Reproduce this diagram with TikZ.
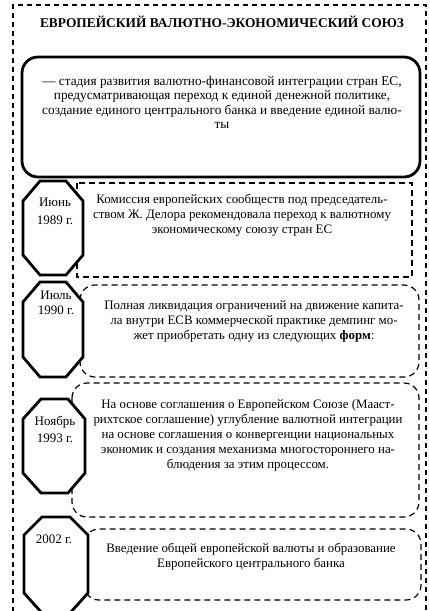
\documentclass[tikz,border=0pt]{standalone}
\usepackage{fontspec}
\setmainfont{Liberation Serif}
\tikzset{
  frame/.style={draw, line width=1.1pt, dash pattern=on 5pt off 4pt},
  dbox/.style={draw, line width=1.2pt, dash pattern=on 6pt off 4pt, fill=white},
  mainbox/.style={draw, line width=2.8pt, rounded corners=16pt},
  oct/.style={draw, line width=2.8pt, fill=white, line join=miter},
  txt/.style={align=center, inner sep=0pt, anchor=north, font=\fontsize{12.9}{15}\selectfont},
  datelbl/.style={align=center, inner sep=0pt, anchor=north, font=\fontsize{13}{17.5}\selectfont},
}
\begin{document}
\begin{tikzpicture}[x=1pt,y=-1pt]
\useasboundingbox (0,0) rectangle (429,611);
% outer frame
\path[frame] (13,630) -- (13,5) -- (426,5) -- (426,630);
\node[font=\bfseries\fontsize{13.4}{15}\selectfont, inner sep=0pt] (title) at (222,22) {ЕВРОПЕЙСКИЙ ВАЛЮТНО-ЭКОНОМИЧЕСКИЙ СОЮЗ};
% main definition box
\path[mainbox] (22,57) rectangle (420,177);
\node[txt, font=\fontsize{13.3}{14.3}\selectfont] (def) at (222,76) {— стадия развития валютно-финансовой интеграции стран ЕС,\\ предусматривающая переход к единой денежной политике,\\ создание единого центрального банка и введение единой валю-\\ ты};
% dashed boxes
\path[dbox] (77,183) rectangle (412,277);
\path[dbox, rounded corners=15pt] (80,285) rectangle (419,377);
\path[dbox, rounded corners=15pt] (72,383) rectangle (419,517);
\path[dbox, rounded corners=15pt] (84,529) rectangle (421,600);
% octagons
\path[oct] (40,181) -- (66,181) -- (83,201) -- (83,255) -- (66,275) -- (40,275) -- (23,255) -- (23,201) -- cycle;
\path[oct] (40,282) -- (66,282) -- (83,302) -- (83,357) -- (66,377) -- (40,377) -- (23,357) -- (23,302) -- cycle;
\path[oct] (41,399) -- (68,399) -- (85,419) -- (85,473) -- (68,493) -- (41,493) -- (23,473) -- (23,419) -- cycle;
\path[oct] (42,517) -- (70,517) -- (88,535) -- (88,593) -- (70,613) -- (42,613) -- (24,593) -- (24,535) -- cycle;
% date labels
\node[datelbl] (d1) at (55,198) {Июнь\\ 1989 г.};
\node[datelbl, font=\fontsize{13}{15}\selectfont] (d2) at (56,291) {Июль\\ 1990 г.};
\node[datelbl, font=\fontsize{13}{17}\selectfont] (d3) at (55,416) {Ноябрь\\ 1993 г.};
\node[datelbl] (d4) at (54,535) {2002 г.};
% texts
\node[txt] (t1) at (242,194) {Комиссия европейских сообществ под председатель-\\ ством Ж. Делора рекомендовала переход к валютному\\ экономическому союзу стран ЕС};
\node[txt] (t2) at (254,300) {Полная ликвидация ограничений на движение капита-\\ ла внутри ЕСВ коммерческой практике демпинг мо-\\ жет приобретать одну из следующих \textbf{форм}:};
\node[txt] (t3) at (248,399) {На основе соглашения о Европейском Союзе (Мааст-\\ рихтское соглашение) углубление валютной интеграции\\ на основе соглашения о конвергенции национальных\\ экономик и создания механизма многостороннего на-\\ блюдения за этим процессом.};
\node[txt] (t4) at (251,543) {Введение общей европейской валюты и образование\\ Европейского центрального банка};
\end{tikzpicture}
\end{document}
